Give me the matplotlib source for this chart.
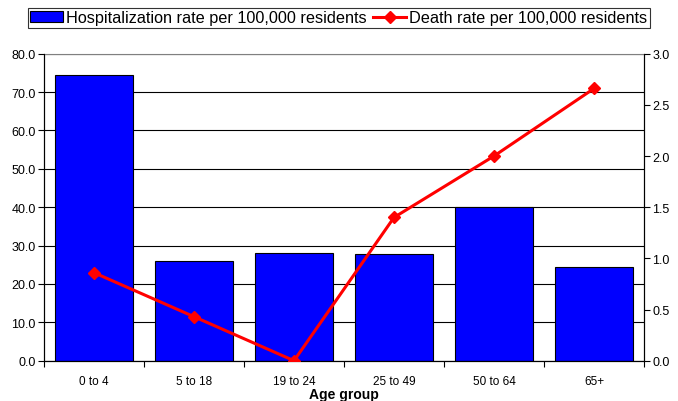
import numpy as np
import matplotlib.pyplot as plt
from matplotlib.ticker import FormatStrFormatter, FixedLocator

plt.rcParams['font.family'] = ['Liberation Sans', 'DejaVu Sans']

# данные
age_groups = ['0 to 4', '5 to 18', '19 to 24', '25 to 49', '50 to 64', '65+']
hosp_rate = [74.5, 26.0, 28.0, 27.7, 40.0, 24.5]
death_rate = [0.86, 0.43, 0.0, 1.40, 2.00, 2.66]

x = np.arange(len(age_groups))

fig = plt.figure(figsize=(6.78, 4.02), dpi=100)
ax = fig.add_axes([44/678, 40.3/402, 600/678, 307/402])

# столбцы
ax.bar(x, hosp_rate, width=0.78, color='#0000ff', edgecolor='black',
       linewidth=0.8, zorder=2, label='Hospitalization rate per 100,000 residents')
ax.set_xlim(-0.5, len(age_groups) - 0.5)
ax.set_ylim(0, 80)
ax.set_yticks(np.arange(0, 81, 10))
ax.yaxis.set_major_formatter(FormatStrFormatter('%.1f'))
ax.set_yticks([], minor=True)
ax.grid(axis='y', color='black', linewidth=0.8, zorder=0)
ax.set_axisbelow(True)

ax.set_xticks(x)
ax.set_xticklabels(age_groups)
ax.xaxis.set_minor_locator(FixedLocator(np.arange(-0.5, len(age_groups), 1)))
ax.tick_params(axis='x', which='major', length=0, pad=10, labelsize=8.5)
ax.tick_params(axis='x', which='minor', length=4, width=0.8, direction='out')
ax.tick_params(axis='y', length=4, width=0.8, labelsize=9, pad=2)
ax.set_xlabel('Age group', fontsize=10, fontweight='bold', labelpad=0)

for s in ['left', 'right', 'bottom']:
    ax.spines[s].set_linewidth(0.8)
    ax.spines[s].set_color('black')
ax.spines['top'].set_color('#808080')
ax.spines['top'].set_linewidth(0.8)

# линия на второй оси
ax2 = ax.twinx()
ax2.plot(x, death_rate, color='#ff0000', linewidth=2.2, marker='D',
         markersize=6, zorder=3, label='Death rate per 100,000 residents')
ax2.set_ylim(0, 3)
ax2.set_yticks(np.arange(0, 3.01, 0.5))
ax2.yaxis.set_major_formatter(FormatStrFormatter('%.1f'))
ax2.tick_params(axis='y', length=4, width=0.8, labelsize=9, pad=2)
ax2.spines['top'].set_visible(False)
ax2.spines['right'].set_linewidth(0.8)

h1, l1 = ax.get_legend_handles_labels()
h2, l2 = ax2.get_legend_handles_labels()
leg = fig.legend(h1 + h2, l1 + l2, loc='upper left', ncol=2,
                 bbox_to_anchor=(28/678, 1 - 9/402), fontsize=11.7,
                 frameon=True, fancybox=False, edgecolor='black',
                 borderpad=0.15, handlelength=2.0, handletextpad=0.2,
                 columnspacing=0.4, borderaxespad=0)
leg.get_frame().set_linewidth(0.8)

fig.savefig('out.png', dpi=100)
